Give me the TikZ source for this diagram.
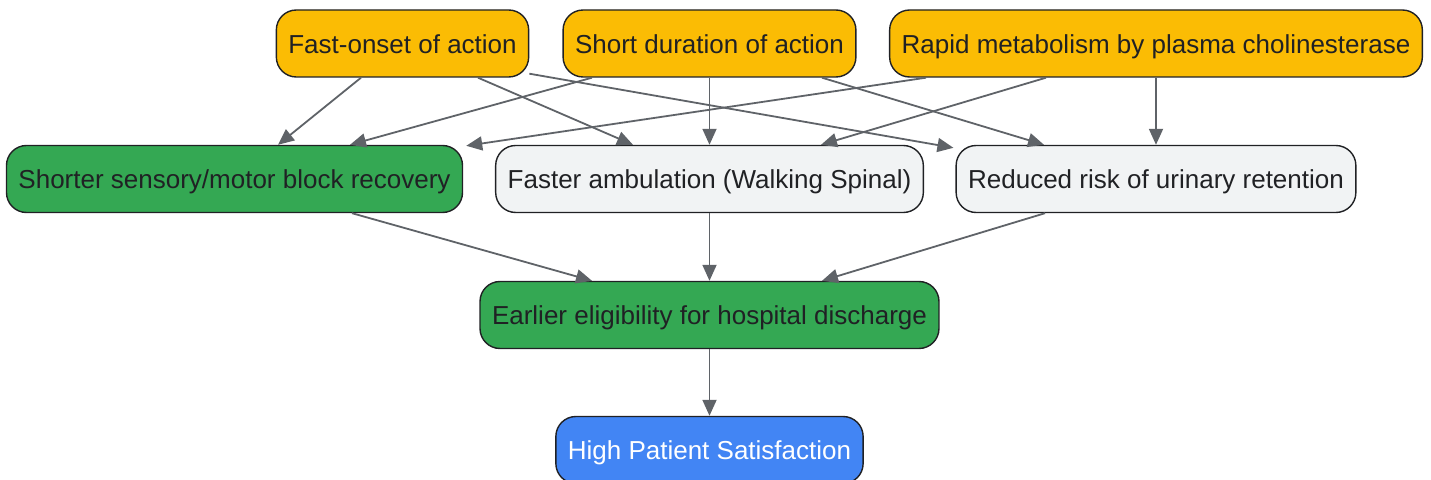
\documentclass[tikz,border=0pt]{standalone}
\usepackage{fontspec}
\setmainfont{Liberation Sans}
\usetikzlibrary{arrows.meta}
\definecolor{gyellow}{HTML}{FBBC04}
\definecolor{ggreen}{HTML}{34A853}
\definecolor{ggrey}{HTML}{F1F3F4}
\definecolor{gblue}{HTML}{4285F4}
\definecolor{gink}{HTML}{202124}
\definecolor{glink}{HTML}{5F6368}
\tikzset{
	fbox/.style={
		draw=gink,
		line width=0.7pt,
		rounded corners=10pt,
		minimum height=33.5pt,
		inner xsep=6pt,
		text height=11pt,
		text depth=1pt,
		text=gink,
		font=\fontsize{13pt}{15pt}\selectfont
	},
	ybox/.style={fbox, fill=gyellow},
	gbox/.style={fbox, fill=ggreen},
	wbox/.style={fbox, fill=ggrey},
	bbox/.style={fbox, fill=gblue, text=white},
	lnk/.style={
		draw=glink,
		line width=0.9pt,
		-{Triangle[length=8pt,width=7pt]}
	}
}

\begin{document}
\begin{tikzpicture}[x=0.5pt,y=-0.5pt]
	\useasboundingbox (0,0) rectangle (1431,480);

	% causes
	\node[ybox] (fast)  at (402.5,43.5) {Fast-onset of action};
	\node[ybox] (short) at (709.5,43.5) {Short duration of action};
	\node[ybox] (rapid) at (1156,43.5)  {Rapid metabolism by plasma cholinesterase};

	% effects
	\node[gbox] (shorter) at (234.5,179) {Shorter sensory/motor block recovery};
	\node[wbox] (faster)  at (709.5,179) {Faster ambulation (Walking Spinal)};
	\node[wbox] (reduced) at (1156,179)  {Reduced risk of urinary retention};

	% outcomes
	\node[gbox] (earlier) at (709.5,315) {Earlier eligibility for hospital discharge};
	\node[bbox] (high)    at (709.5,450) {High Patient Satisfaction};

	\draw[lnk] ([xshift=-20.75pt]fast.south) -- ([xshift=21.75pt]shorter.north);
	\draw[lnk] ([xshift=37.75pt]fast.south) -- ([xshift=-38.25pt]faster.north);
	\draw[lnk] ([yshift=2pt]fast.south east) -- ([xshift=-1pt,yshift=-1.5pt]reduced.north west);

	\draw[lnk] ([xshift=-58.75pt]short.south) -- ([xshift=57.75pt]shorter.north);
	\draw[lnk] (short) -- (faster);
	\draw[lnk] ([xshift=56.25pt]short.south) -- ([xshift=-56pt]reduced.north);

	\draw[lnk] ([xshift=-115pt]rapid.south) -- ([xshift=1.5pt,yshift=-0.5pt]shorter.north east);
	\draw[lnk] ([xshift=-55pt]rapid.south) -- ([xshift=55.75pt]faster.north);
	\draw[lnk] (rapid) -- (reduced);

	\draw[lnk] ([xshift=58.75pt]shorter.south) -- ([xshift=-58.75pt]earlier.north);
	\draw[lnk] (faster) -- (earlier);
	\draw[lnk] ([xshift=-55.5pt]reduced.south) -- ([xshift=56.25pt]earlier.north);

	\draw[lnk] (earlier) -- (high);
\end{tikzpicture}
\end{document}
